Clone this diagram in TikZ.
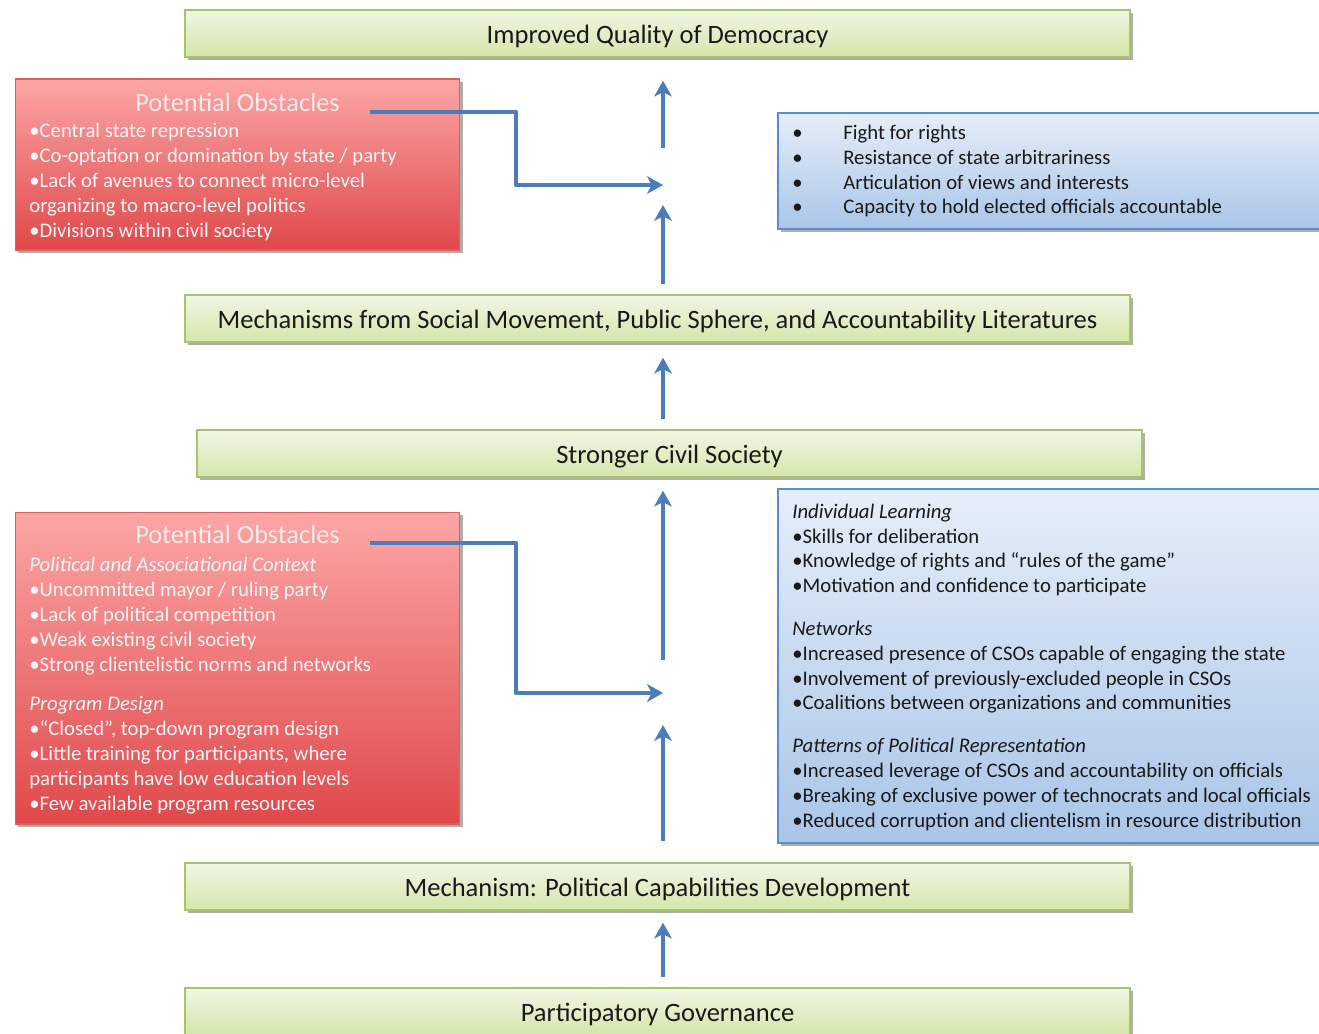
\documentclass[tikz,border=0pt]{standalone}
\usepackage{fontspec}
\setmainfont{Carlito}
\usetikzlibrary{arrows.meta,shadows}
\definecolor{grnline}{HTML}{A6C46A}
\definecolor{grntop}{HTML}{F0F6E6}
\definecolor{grnbot}{HTML}{D4E6A9}
\definecolor{redline}{HTML}{D9615E}
\definecolor{redtop}{HTML}{FCA6A6}
\definecolor{redbot}{HTML}{E0484A}
\definecolor{blueline}{HTML}{5A8ECB}
\definecolor{bluetop}{HTML}{E6EEF8}
\definecolor{bluebot}{HTML}{A9C5E8}
\definecolor{flowblue}{HTML}{4A7EBB}

\begin{document}
\begin{tikzpicture}[x=0.02cm,y=-0.02cm,
    shade/.style={drop shadow={shadow xshift=1.6pt,shadow yshift=-1.6pt,opacity=.45,fill=black!70}},
    greenbox/.style={shade,draw=grnline,line width=0.8pt,shading=axis,top color=grntop,bottom color=grnbot,
        minimum width=18.9cm,minimum height=0.94cm,inner sep=0pt,text height=13pt,text depth=1.5pt,
        font=\fontsize{15.1}{18}\selectfont,text=black!90},
    redbox/.style={shade,draw=redline,line width=0.6pt,shading=axis,top color=redtop,bottom color=redbot,
        minimum width=8.9cm,inner sep=0pt},
    bluebox/.style={shade,draw=blueline,line width=0.8pt,shading=axis,top color=bluetop,bottom color=bluebot,
        minimum width=11.04cm,inner sep=0pt},
    obstitle/.style={anchor=base,inner sep=0pt,text=red!8,font=\fontsize{15}{18}\selectfont},
    % multi-line texts: base anchor sits on the last line
    obstext/.style={anchor=base west,inner sep=0pt,align=left,text=white!96!red,font=\fontsize{11.8}{14.2}\selectfont},
    gaintext/.style={anchor=base west,inner sep=0pt,align=left,text=black!90,font=\fontsize{11.8}{14.05}\selectfont},
    flow/.style={draw=flowblue,line width=2.4pt,line join=round,-{Stealth[length=9pt,width=10pt,inset=2.5pt]}}]

    \useasboundingbox (0,0) rectangle (1319,1034);

    % main chain
    \node[greenbox] (qual) at (657.5,33.5) {Improved Quality of Democracy};
    \node[greenbox] (mech) at (657.5,318.5) {Mechanisms from Social Movement, Public Sphere, and Accountability Literatures};
    \node[greenbox] (civil) at (669.5,453.5) {Stronger Civil Society};
    \node[greenbox] (capab) at (657.5,886.5) {Mechanism: Political Capabilities Development};
    \node[greenbox] (gov) at (657.5,1011.5) {Participatory Governance};

    % obstacles, top
    \node[redbox,minimum height=3.42cm] (obs1) at (237.5,164.5) {};
    \node[obstitle] (obs1t) at (237.5,112) {Potential Obstacles};
    \node[obstext] (obs1l) at (29,237) {•Central state repression\\
        •Co-optation or domination by state / party\\
        •Lack of avenues to connect micro-level\\
        organizing to macro-level politics\\
        •Divisions within civil society};

    % obstacles, bottom
    \node[redbox,minimum height=6.24cm] (obs2) at (237.5,668) {};
    \node[obstitle] (obs2t) at (237.5,543) {Potential Obstacles};
    \node[obstext] (obs2l) at (29,810) {\textit{Political and Associational Context}\\
        •Uncommitted mayor / ruling party\\
        •Lack of political competition\\
        •Weak existing civil society\\
        •Strong clientelistic norms and networks\\[8pt]
        \textit{Program Design}\\
        •“Closed”, top-down program design\\
        •Little training for participants, where\\
        participants have low education levels\\
        •Few available program resources};

    % mechanisms, top
    \node[bluebox,minimum height=2.32cm] (mech1) at (1054,171) {};
    \node[gaintext] (mech1l) at (792,214) {\makebox[29pt][l]{•}Fight for rights\\
        \makebox[29pt][l]{•}Resistance of state arbitrariness\\
        \makebox[29pt][l]{•}Articulation of views and interests\\
        \makebox[29pt][l]{•}Capacity to hold elected officials accountable};

    % mechanisms, bottom
    \node[bluebox,minimum height=7.08cm] (mech2) at (1054,666) {};
    \node[gaintext] (mech2l) at (792,827) {\textit{Individual Learning}\\
        •Skills for deliberation\\
        •Knowledge of rights and “rules of the game”\\
        •Motivation and confidence to participate\\[10.5pt]
        \textit{Networks}\\
        •Increased presence of CSOs capable of engaging the state\\
        •Involvement of previously-excluded people in CSOs\\
        •Coalitions between organizations and communities\\[10.5pt]
        \textit{Patterns of Political Representation}\\
        •Increased leverage of CSOs and accountability on officials\\
        •Breaking of exclusive power of technocrats and local officials\\
        •Reduced corruption and clientelism in resource distribution};

    % arrows
    \coordinate (m1) at (663,185);
    \coordinate (m2) at (663,693);
    \coordinate (k1) at (516,185);
    \coordinate (k2) at (516,693);

    \draw[flow,shorten <=0.2cm,shorten >=0.24cm] (gov.north -| m2) -- (capab.south -| m2);
    \draw[flow,shorten <=0.42cm,shorten >=0.64cm] (capab.north -| m2) -- (m2);
    \draw[flow,shorten <=0.66cm,shorten >=0.26cm] (m2) -- (civil.south -| m2);
    \draw[flow] ([xshift=0.6cm]obs2t.base east) -| (k2) -- (m2);
    \draw[flow,shorten <=0.2cm,shorten >=0.3cm] (civil.north -| m1) -- (mech.south -| m1);
    \draw[flow,shorten <=0.2cm,shorten >=0.4cm] (mech.north -| m1) -- (m1);
    \draw[flow,shorten <=0.74cm,shorten >=0.46cm] (m1) -- (qual.south -| m1);
    \draw[flow] ([xshift=0.6cm]obs1t.base east) -| (k1) -- (m1);
\end{tikzpicture}
\end{document}
